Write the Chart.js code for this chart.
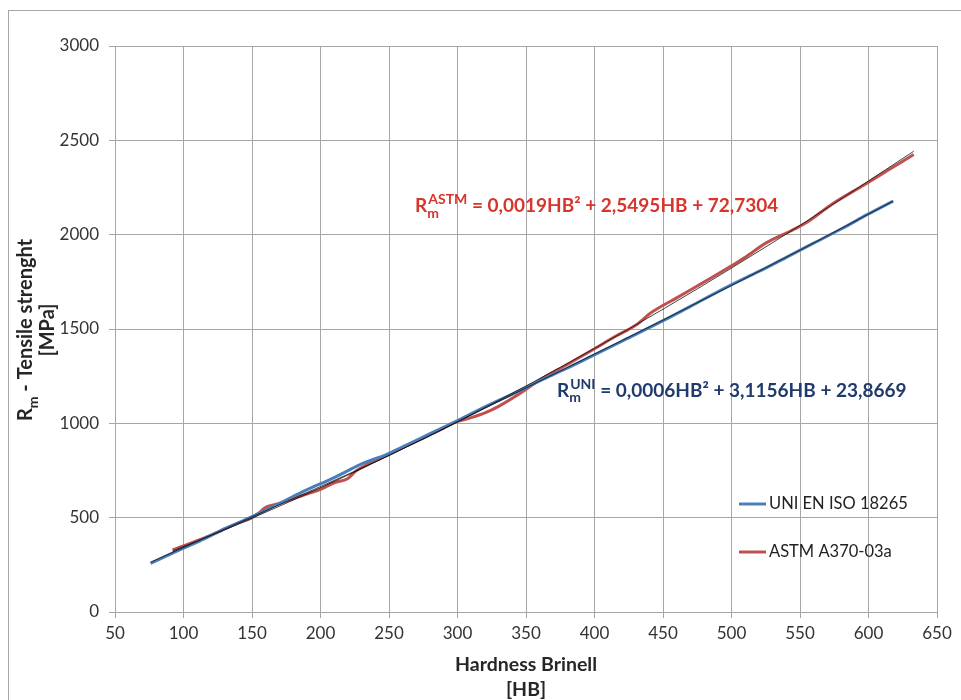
<!DOCTYPE html>
<html>
<head>
<meta charset="utf-8">
<script src="https://cdn.jsdelivr.net/npm/chart.js@4.4.1/dist/chart.umd.min.js"></script>
<style>
  body { margin: 0; background: #fff; }
  canvas { display: block; }
</style>
</head>
<body>
<canvas id="chart" width="961" height="700"></canvas>
<script>
  // values: hardness Brinell [HB] -> tensile strength Rm [MPa]
  const uniHB = [76, 90, 100, 110, 120, 131, 140, 150, 160, 170, 185, 200, 210, 219, 230, 248, 260, 280, 300, 316, 340, 360, 380, 398, 420, 449, 470, 498, 520, 540, 560, 580, 600, 618];
  const uniRm = [258, 305, 338, 370, 405, 444, 472, 505, 540, 575, 630, 680, 712, 745, 785, 834, 875, 945, 1015, 1073, 1155, 1225, 1292, 1356, 1435, 1540, 1620, 1727, 1805, 1880, 1955, 2030, 2110, 2178];

  const astmHB = [92, 100, 110, 120, 130, 140, 150, 155, 160, 170, 180, 190, 200, 210, 220, 226, 235, 245, 258, 270, 280, 290, 300, 310, 320, 330, 345, 360, 380, 400, 415, 430, 442, 460, 485, 500, 510, 525, 546, 556, 573, 597, 615, 633];
  const astmRm = [329, 350, 378, 408, 440, 472, 500, 525, 555, 575, 600, 625, 650, 685, 708, 748, 785, 820, 865, 905, 940, 975, 1010, 1030, 1055, 1090, 1155, 1230, 1312, 1395, 1460, 1520, 1590, 1665, 1770, 1835, 1880, 1955, 2030, 2070, 2160, 2265, 2345, 2425];

  // thin black trend lines
  const uniTrendHB = [76, 150, 250, 350, 450, 550, 618];
  const uniTrendRm = [264, 504, 830, 1188, 1547, 1918, 2178];
  const astmTrendHB = [92, 150, 250, 350, 450, 550, 633];
  const astmTrendRm = [323, 497, 829, 1198, 1605, 2049, 2442];

  const xTicks = [50, 100, 150, 200, 250, 300, 350, 400, 450, 500, 550, 600, 650];
  const yTicks = [0, 500, 1000, 1500, 2000, 2500, 3000];

  const seriesNames = ['UNI EN ISO 18265', 'ASTM A370-03a'];
  const seriesColors = ['#4a7ebb', '#c0504d'];

  const pts = (xs, ys) => xs.map((x, i) => ({ x: x, y: ys[i] }));

  const FONT = 'Lato, "Open Sans", sans-serif';
  const gridColor = '#a6a6a6';

  function drawRm(ctx, x, y, size, sub, sup, color) {
    // draws R with subscript m and optional superscript, returns end x
    ctx.fillStyle = color;
    ctx.textAlign = 'left';
    ctx.textBaseline = 'alphabetic';
    ctx.font = 'bold ' + size + 'px ' + FONT;
    ctx.fillText('R', x, y);
    let cx = x + ctx.measureText('R').width;
    const small = Math.round(size * 0.72);
    ctx.font = 'bold ' + small + 'px ' + FONT;
    ctx.fillText(sub, cx, y + size * 0.3);
    let w = ctx.measureText(sub).width;
    if (sup) {
      ctx.fillText(sup, cx + 1, y - size * 0.42);
      w = Math.max(w, ctx.measureText(sup).width + 1);
    }
    return cx + w;
  }

  const extras = {
    id: 'extras',
    beforeDraw(chart) {
      const ctx = chart.ctx;
      ctx.save();
      ctx.strokeStyle = gridColor;
      ctx.lineWidth = 1;
      ctx.strokeRect(8.5, 10.5, 1000, 800);
      ctx.restore();
    },
    afterDraw(chart) {
      const ctx = chart.ctx;
      const xs = chart.scales.x, ys = chart.scales.y;
      const area = chart.chartArea;
      ctx.save();

      // equations
      let ex = drawRm(ctx, xs.getPixelForValue(269), ys.getPixelForValue(2119), 19, 'm', 'ASTM', '#d7352c');
      ctx.font = 'bold 19px ' + FONT;
      ctx.fillText(' = 0,0019HB\u00b2 + 2,5495HB + 72,7304', ex, ys.getPixelForValue(2119));

      ex = drawRm(ctx, xs.getPixelForValue(372.6), ys.getPixelForValue(1142), 19, 'm', 'UNI', '#1f3a6b');
      ctx.font = 'bold 19px ' + FONT;
      ctx.fillText(' = 0,0006HB\u00b2 + 3,1156HB + 23,8669', ex, ys.getPixelForValue(1142));

      // legend inside plot area
      seriesNames.forEach((name, i) => {
        const ly = 504 + i * 48;
        ctx.strokeStyle = seriesColors[i];
        ctx.lineWidth = 3;
        ctx.beginPath();
        ctx.moveTo(739, ly);
        ctx.lineTo(766, ly);
        ctx.stroke();
        ctx.fillStyle = '#222';
        ctx.font = '16.5px ' + FONT;
        ctx.textBaseline = 'middle';
        ctx.textAlign = 'left';
        ctx.fillText(name, 769, ly);
      });

      // x axis title
      const cxm = (area.left + area.right) / 2;
      ctx.fillStyle = '#262626';
      ctx.font = 'bold 19.5px ' + FONT;
      ctx.textAlign = 'center';
      ctx.textBaseline = 'middle';
      ctx.fillText('Hardness Brinell', cxm, 665);
      ctx.fillText('[HB]', cxm, 690);

      // y axis title (rotated)
      ctx.save();
      ctx.translate(25, 330);
      ctx.rotate(-Math.PI / 2);
      const rest = ' - Tensile strenght';
      ctx.font = 'bold 20px ' + FONT;
      const wR = ctx.measureText('R').width;
      ctx.font = 'bold 14px ' + FONT;
      const wm = ctx.measureText('m').width;
      ctx.font = 'bold 20px ' + FONT;
      const total = wR + wm + ctx.measureText(rest).width;
      const sx = -total / 2;
      const endx = drawRm(ctx, sx, 7, 20, 'm', null, '#262626');
      ctx.font = 'bold 20px ' + FONT;
      ctx.fillText(rest, endx, 7);
      ctx.restore();

      ctx.save();
      ctx.translate(48, 330);
      ctx.rotate(-Math.PI / 2);
      ctx.fillStyle = '#262626';
      ctx.font = 'bold 20px ' + FONT;
      ctx.textAlign = 'center';
      ctx.textBaseline = 'middle';
      ctx.fillText('[MPa]', 0, 0);
      ctx.restore();

      ctx.restore();
    }
  };

  const lineDs = (label, data, color, width) => ({
    label: label,
    data: data,
    showLine: true,
    borderColor: color,
    backgroundColor: color,
    borderWidth: width,
    pointRadius: 0,
    cubicInterpolationMode: 'monotone',
    fill: false
  });

  new Chart(document.getElementById('chart').getContext('2d'), {
    type: 'scatter',
    data: {
      datasets: [
        lineDs('UNI trend', pts(uniTrendHB, uniTrendRm), '#111', 0.8),
        lineDs('ASTM trend', pts(astmTrendHB, astmTrendRm), '#111', 0.8),
        lineDs(seriesNames[0], pts(uniHB, uniRm), seriesColors[0], 3),
        lineDs(seriesNames[1], pts(astmHB, astmRm), seriesColors[1], 3)
      ]
    },
    options: {
      responsive: false,
      devicePixelRatio: 1,
      animation: false,
      layout: { padding: { top: 46, right: 24, left: 0, bottom: 0 } },
      plugins: { legend: { display: false }, tooltip: { enabled: false } },
      scales: {
        x: {
          type: 'linear',
          min: 50, max: 650,
          afterBuildTicks: s => { s.ticks = xTicks.map(v => ({ value: v })); },
          afterFit: s => { s.height = 88; },
          grid: { color: gridColor, tickLength: 6 },
          border: { color: gridColor },
          ticks: { color: '#333', font: { family: FONT, size: 17 }, padding: 5, maxRotation: 0, callback: v => String(v) }
        },
        y: {
          type: 'linear',
          min: 0, max: 3000,
          afterBuildTicks: s => { s.ticks = yTicks.map(v => ({ value: v })); },
          afterFit: s => { s.width = 115; },
          grid: { color: gridColor, tickLength: 6 },
          border: { color: gridColor },
          ticks: { color: '#333', font: { family: FONT, size: 17 }, padding: 10, callback: v => String(v) }
        }
      }
    },
    plugins: [extras]
  });
</script>
</body>
</html>
